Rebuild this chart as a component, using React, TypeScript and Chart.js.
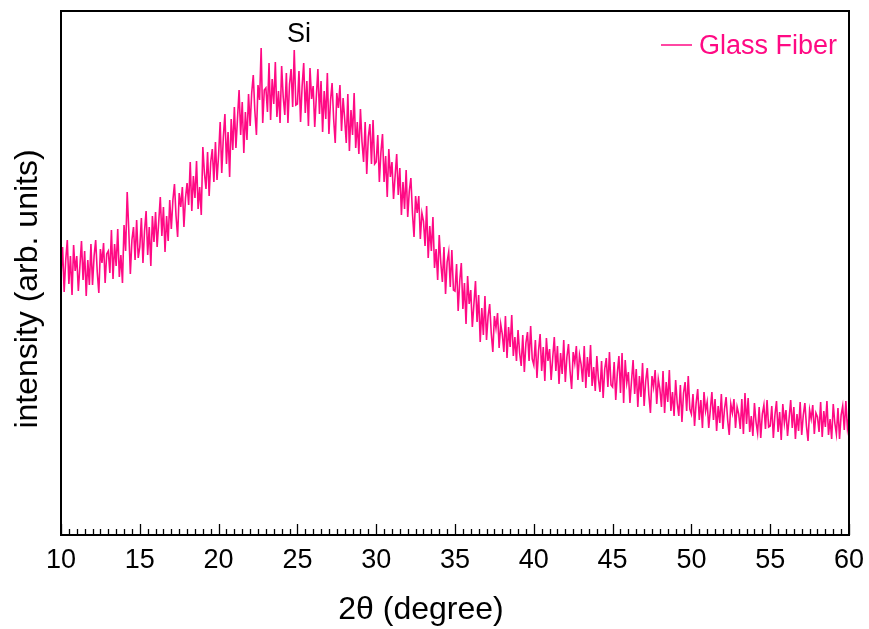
import React, { useEffect, useRef } from "react";
import { Chart, registerables } from "chart.js";

Chart.register(...registerables);

// ---- data ----
const TWO_THETA_START = 10;
const TWO_THETA_STEP = 0.1;
const X_MIN = 10;
const X_MAX = 60;
const X_MAJOR_STEP = 5;
const X_MINOR_STEP = 0.5;
const Y_MIN = 0;
const Y_MAX = 524;
const SERIES_LABEL = "Glass Fiber";
const PEAK_LABEL = "Si";
const PEAK_POS = 25.1;
const PEAK_LABEL_LEVEL = 500;
const X_TITLE = "2θ (degree)";
const Y_TITLE = "intensity (arb. units)";

// intensity, one row per degree (x.0 ... x.9), last value at 60.0
const INTENSITY: number[] = [
  259, 288, 243, 275, 295, 251, 279, 240, 290, 264,
  279, 244, 269, 294, 255, 284, 239, 275, 250, 291,
  250, 279, 295, 263, 242, 286, 272, 292, 252, 281,
  284, 262, 305, 256, 291, 269, 306, 258, 280, 252,
  310, 284, 343, 305, 261, 295, 308, 275, 315, 277,
  288, 317, 272, 304, 324, 280, 308, 269, 319, 293,
  323, 288, 313, 338, 299, 328, 283, 319, 294, 335,
  306, 335, 351, 319, 298, 342, 328, 348, 308, 337,
  352, 330, 373, 324, 359, 337, 374, 326, 348, 320,
  388, 362, 346, 383, 339, 373, 386, 353, 393, 355,
  380, 413, 362, 398, 421, 371, 403, 358, 416, 385,
  428, 387, 417, 445, 400, 433, 382, 423, 395, 441,
  409, 442, 460, 424, 400, 450, 435, 487, 412, 445,
  447, 423, 472, 415, 456, 431, 473, 418, 444, 412,
  469, 438, 420, 462, 412, 451, 466, 428, 485, 430,
  431, 464, 413, 449, 472, 422, 454, 409, 467, 436,
  449, 408, 438, 466, 421, 454, 403, 444, 416, 462,
  401, 434, 452, 416, 392, 442, 427, 450, 404, 437,
  416, 392, 441, 384, 425, 400, 442, 387, 413, 381,
  426, 393, 373, 413, 361, 398, 411, 371, 415, 371,
  373, 400, 353, 383, 401, 353, 379, 338, 386, 358,
  373, 336, 359, 381, 340, 367, 320, 353, 326, 365,
  318, 344, 357, 322, 298, 339, 322, 339, 296, 322,
  314, 289, 329, 277, 309, 284, 318, 267, 286, 255,
  300, 272, 253, 288, 241, 273, 283, 248, 285, 245,
  244, 271, 224, 254, 272, 226, 252, 211, 259, 231,
  245, 208, 231, 254, 213, 240, 193, 227, 200, 239,
  195, 219, 231, 202, 183, 219, 207, 222, 187, 211,
  201, 183, 219, 177, 208, 188, 220, 179, 198, 174,
  205, 182, 169, 200, 163, 192, 203, 174, 209, 176,
  170, 195, 157, 184, 201, 164, 188, 154, 197, 174,
  186, 155, 177, 198, 164, 189, 151, 182, 161, 195,
  153, 178, 191, 164, 146, 183, 172, 189, 155, 180,
  171, 153, 189, 147, 178, 158, 190, 149, 168, 144,
  179, 156, 143, 174, 137, 166, 177, 148, 183, 150,
  148, 173, 135, 162, 179, 142, 182, 132, 175, 152,
  163, 132, 154, 175, 141, 166, 128, 159, 138, 172,
  129, 154, 167, 140, 122, 159, 148, 165, 131, 156,
  146, 128, 164, 122, 153, 133, 165, 124, 143, 119,
  155, 132, 119, 150, 113, 142, 153, 124, 159, 126,
  121, 141, 109, 132, 146, 115, 135, 107, 143, 124,
  133, 107, 125, 143, 115, 136, 104, 129, 112, 141,
  106, 126, 138, 115, 100, 131, 122, 136, 107, 128,
  121, 106, 136, 101, 142, 111, 137, 103, 119, 99,
  132, 113, 102, 128, 97, 121, 130, 106, 135, 108,
  109, 129, 97, 120, 134, 103, 123, 95, 131, 112,
  125, 99, 117, 135, 107, 128, 96, 121, 104, 133,
  100, 120, 132, 109, 94, 125, 116, 130, 101, 122,
  118, 103, 133, 98, 124, 108, 134, 100, 116, 96,
  131, 112, 101, 127, 96, 120, 129, 105, 134, 107,
  118,
];

const LINE_COLOR = "#FF0A84";
const FONT_FAMILY = "'Liberation Sans', Arial, Helvetica, sans-serif";

const points = INTENSITY.map((v, i) => ({
  x: Math.round((TWO_THETA_START + i * TWO_THETA_STEP) * 10) / 10,
  y: v,
}));

const decorPlugin = {
  id: "decor",
  afterDraw(chart: any) {
    const { ctx, chartArea } = chart;
    const xs = chart.scales.x;
    const ys = chart.scales.y;
    const { left, right, top, bottom } = chartArea;
    ctx.save();
    // frame
    ctx.strokeStyle = "#000";
    ctx.lineWidth = 2;
    ctx.strokeRect(left, top, right - left, bottom - top);
    // inward ticks on the bottom axis
    ctx.lineWidth = 1.3;
    const nMinor = Math.round((X_MAX - X_MIN) / X_MINOR_STEP);
    for (let i = 0; i <= nMinor; i++) {
      const v = X_MIN + i * X_MINOR_STEP;
      const px = Math.round(xs.getPixelForValue(v)) + 0.5;
      const major = Math.abs(v / X_MAJOR_STEP - Math.round(v / X_MAJOR_STEP)) < 1e-6;
      const len = major ? 11 : 6;
      ctx.beginPath();
      ctx.moveTo(px, bottom);
      ctx.lineTo(px, bottom - len);
      ctx.stroke();
    }
    // axis titles
    ctx.fillStyle = "#000";
    ctx.font = `32px ${FONT_FAMILY}`;
    ctx.textAlign = "center";
    ctx.textBaseline = "middle";
    ctx.fillText(X_TITLE, 421, 610);
    ctx.save();
    ctx.translate(28, 289);
    ctx.rotate(-Math.PI / 2);
    ctx.fillText(Y_TITLE, 0, 0);
    ctx.restore();
    // peak label
    ctx.font = `27px ${FONT_FAMILY}`;
    ctx.fillText(PEAK_LABEL, xs.getPixelForValue(PEAK_POS), ys.getPixelForValue(PEAK_LABEL_LEVEL));
    // legend
    ctx.strokeStyle = LINE_COLOR;
    ctx.lineWidth = 1.5;
    ctx.beginPath();
    ctx.moveTo(661, 45);
    ctx.lineTo(692, 45);
    ctx.stroke();
    ctx.fillStyle = LINE_COLOR;
    ctx.textAlign = "left";
    ctx.font = `27px ${FONT_FAMILY}`;
    ctx.fillText(SERIES_LABEL, 699, 47);
    ctx.restore();
  },
};

export default function App() {
  const canvasRef = useRef<HTMLCanvasElement | null>(null);

  useEffect(() => {
    document.body.style.margin = "0";
    const canvas = canvasRef.current;
    if (!canvas) return;
    const chart = new Chart(canvas, {
      type: "line",
      data: {
        datasets: [
          {
            label: SERIES_LABEL,
            data: points,
            borderColor: LINE_COLOR,
            borderWidth: 1.6,
            pointRadius: 0,
            tension: 0,
            fill: false,
          },
        ],
      },
      options: {
        animation: false,
        responsive: false,
        maintainAspectRatio: false,
        parsing: false as any,
        layout: { padding: { top: 11, right: 20, left: 0, bottom: 0 } },
        plugins: {
          legend: { display: false },
          tooltip: { enabled: false },
          title: { display: false },
        },
        scales: {
          x: {
            type: "linear",
            min: X_MIN,
            max: X_MAX,
            grid: { display: false, drawTicks: false },
            border: { display: false },
            ticks: {
              stepSize: X_MAJOR_STEP,
              color: "#000",
              padding: 9,
              maxRotation: 0,
              autoSkip: false,
              font: { family: FONT_FAMILY, size: 27 },
            },
            afterFit: (s: any) => {
              s.height = 94;
              s.paddingLeft = 0;
              s.paddingRight = 0;
            },
          },
          y: {
            type: "linear",
            min: Y_MIN,
            max: Y_MAX,
            grid: { display: false, drawTicks: false },
            border: { display: false },
            ticks: { display: false },
            afterFit: (s: any) => {
              s.width = 61;
              s.paddingTop = 0;
              s.paddingBottom = 0;
            },
          },
        },
      },
      plugins: [decorPlugin],
    });
    return () => chart.destroy();
  }, []);

  return (
    <div style={{ width: 869, height: 629, background: "#fff" }}>
      <canvas ref={canvasRef} width={869} height={629} style={{ display: "block" }} />
    </div>
  );
}
